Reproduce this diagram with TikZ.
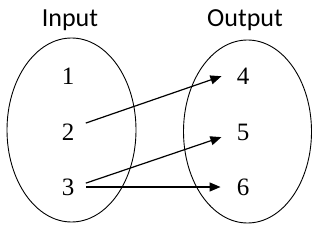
\documentclass[tikz,border=0pt]{standalone}
\usepackage{fontspec}
\setmainfont{Liberation Serif}
\newfontfamily\labelfont{Carlito}
\usetikzlibrary{arrows.meta}
\begin{document}
\begin{tikzpicture}[
        x=1pt, y=1pt,
        set label/.style={
            font=\labelfont\fontsize{26}{30}\selectfont,
            anchor=base
        },
        element/.style={
            font=\fontsize{25}{30}\selectfont,
            inner sep=0pt
        },
        mapping/.style={
            -{Triangle[length=11pt,width=9pt]},
            line width=1.2pt,
            shorten <=12pt,
            shorten >=16pt
        }
    ]
    \useasboundingbox (0,0) rectangle (312,230);
    % 两个集合
    \draw[line width=0.9pt] (71.5,100) ellipse [x radius=64.5, y radius=92];
    \draw[line width=0.9pt] (247.5,98.5) ellipse [x radius=64, y radius=91.5];
    \node[set label] (input) at (70,203) {Input};
    \node[set label] (output) at (245,203) {Output};
    % 定义域
    \node[element] (n1) at (68,154) {1};
    \node[element] (n2) at (68,98) {2};
    \node[element] (n3) at (68,43) {3};
    % 值域
    \node[element] (n4) at (243,154) {4};
    \node[element] (n5) at (243,98) {5};
    \node[element] (n6) at (243,43) {6};
    % 映射
    \draw[mapping] ([yshift=5pt]n2.east) -- ([yshift=5pt]n4.west);
    \draw[mapping] (n3.east) -- (n5.west);
    \draw[mapping] (n3.east) -- (n6.west);
\end{tikzpicture}
\end{document}
